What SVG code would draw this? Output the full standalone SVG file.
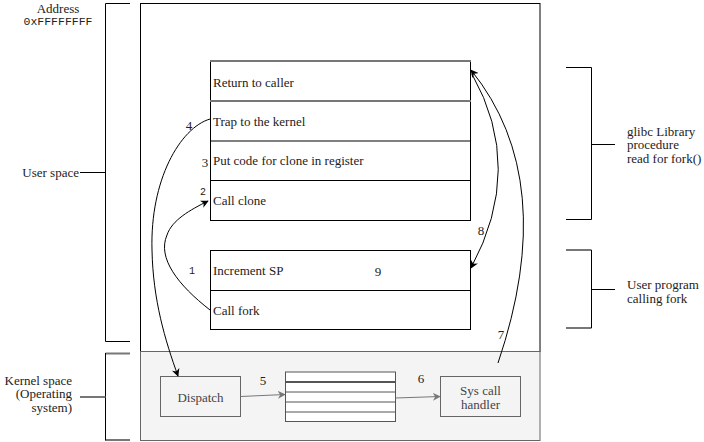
<svg xmlns="http://www.w3.org/2000/svg" width="704" height="442" viewBox="0 0 704 442">
<defs>
<marker id="ah" viewBox="0 0 10 10" refX="9" refY="5" markerWidth="8" markerHeight="8" markerUnits="userSpaceOnUse" orient="auto">
<path d="M0,0 L10,5 L0,10 L3,5 Z" fill="#000"/>
</marker>
<marker id="ahg" viewBox="0 0 10 10" refX="9" refY="5" markerWidth="8" markerHeight="8" markerUnits="userSpaceOnUse" orient="auto">
<path d="M0,0 L10,5 L0,10 L3,5 Z" fill="#777"/>
</marker>
</defs>
<style>
text{font-family:"Liberation Serif","Times New Roman",serif;font-size:13px;fill:#222}
text.mono{font-family:"Liberation Mono","DejaVu Sans Mono",monospace}
.blk{fill:none;stroke:#000;stroke-width:1}
.gryt{fill:none;stroke:#777;stroke-width:2}
.row{fill:#fff;stroke:#000;stroke-width:1}
.mid{text-anchor:middle}
.end{text-anchor:end}
.conn{fill:none;stroke:#000;stroke-width:1}
.k{fill:#444}
</style>
<rect width="704" height="442" fill="#fff"/>

<g id="labels">
<text x="58" y="13" class="mid">Address</text>
<text x="58" y="25" class="mid mono" style="font-size:11.5px">0xFFFFFFFF</text>
</g>

<g id="user-space">
<rect x="140.5" y="3.5" width="399.5" height="348" class="blk"/>
</g>

<g id="kernel-space">
<rect x="140.5" y="351.5" width="399.5" height="89" fill="#f4f4f4" stroke="#666" stroke-width="1"/>
</g>

<g id="brace-user">
<path d="M130 3.5 H105.5 V341.5 H130" class="blk"/>
<line x1="80" y1="172.5" x2="105.5" y2="172.5" class="blk"/>
<text x="79" y="176.5" class="end">User space</text>
</g>

<g id="brace-kernel">
<path d="M130 353.5 H105.5" class="gryt"/>
<path d="M130 440 H105.5" class="gryt"/>
<line x1="105.5" y1="353" x2="105.5" y2="440.5" class="blk"/>
<line x1="80" y1="397" x2="105.5" y2="397" class="gryt"/>
<text x="72" y="384.5" class="end">Kernel space</text>
<text x="72" y="398" class="end">(Operating</text>
<text x="72" y="411.5" class="end">system)</text>
</g>

<g id="brace-glibc">
<path d="M566 67.5 H591.5 V219.5 H566" class="blk"/>
<line x1="591.5" y1="144.5" x2="615" y2="144.5" class="blk"/>
<text x="627" y="135.5">glibc Library</text>
<text x="627" y="149">procedure</text>
<text x="627" y="162.5">read for fork()</text>
</g>

<g id="brace-userprog">
<path d="M566 250 H591.5" class="gryt"/>
<path d="M566 328 H591.5" class="gryt"/>
<line x1="591.5" y1="250" x2="591.5" y2="328" class="blk"/>
<line x1="591.5" y1="289.5" x2="615" y2="289.5" class="blk"/>
<text x="627" y="288.5">User program</text>
<text x="627" y="302.5">calling fork</text>
</g>

<g id="glibc-stack">
<rect x="210.5" y="61" width="260" height="159.5" class="row"/>
<line x1="210.5" y1="141" x2="470.5" y2="141" class="blk"/>
<line x1="210.5" y1="180.5" x2="470.5" y2="180.5" class="blk"/>
<line x1="210" y1="61" x2="471" y2="61" class="gryt"/>
<line x1="210" y1="101" x2="471" y2="101" class="gryt"/>
<text x="213" y="86.5">Return to caller</text>
<text x="213" y="125.5">Trap to the kernel</text>
<text x="213" y="165">Put code for clone in register</text>
<text x="213" y="204.5">Call clone</text>
</g>

<g id="user-stack">
<rect x="210.5" y="250.5" width="260" height="79" class="row"/>
<line x1="210.5" y1="290.5" x2="470.5" y2="290.5" class="blk"/>
<text x="213" y="274.5">Increment SP</text>
<text x="213" y="314.5">Call fork</text>
</g>

<g id="dispatch">
<rect x="160.5" y="376.5" width="80" height="40" fill="#f4f4f4" stroke="#666" stroke-width="1"/>
<text x="200.5" y="401.5" class="mid k">Dispatch</text>
</g>

<g id="table">
<rect x="285.5" y="372" width="110" height="49.5" fill="#fff" stroke="#555" stroke-width="1"/>
<line x1="285.5" y1="382" x2="395.5" y2="382" stroke="#555" stroke-width="2"/>
<line x1="285.5" y1="392" x2="395.5" y2="392" stroke="#555" stroke-width="1"/>
<line x1="285.5" y1="402" x2="395.5" y2="402" stroke="#555" stroke-width="1"/>
<line x1="285.5" y1="412" x2="395.5" y2="412" stroke="#555" stroke-width="1"/>
</g>

<g id="syscall-handler">
<rect x="440.5" y="376.5" width="80" height="40" fill="#f4f4f4" stroke="#666" stroke-width="1"/>
<text x="480.5" y="394.5" class="mid k">Sys call</text>
<text x="480.5" y="408.5" class="mid k">handler</text>
</g>

<g id="connectors">
<path d="M210 310 C178 285 157 258 167 235 C172 220 190 210 208 201" class="conn" marker-end="url(#ah)"/>
<path d="M210 119 C180 128 150 180 152 250 C153 300 165 340 178 376" class="conn" marker-end="url(#ah)"/>
<path d="M240.5 396.5 L285 394.5" fill="none" stroke="#777" stroke-width="1" marker-end="url(#ahg)"/>
<path d="M395.5 398 L440 396.5" fill="none" stroke="#777" stroke-width="1" marker-end="url(#ahg)"/>
<path d="M498 363 Q560 180 471 70" class="conn" marker-end="url(#ah)"/>
<path d="M472 74 Q525 168 471 268" class="conn" marker-end="url(#ah)"/>
</g>

<g id="step-labels">
<text x="192" y="274" class="mono mid" style="font-size:10px">1</text>
<text x="203" y="195" class="mono mid" style="font-size:10px">2</text>
<text x="205" y="166.5" class="mid">3</text>
<text x="189" y="129.5" class="mid">4</text>
<text x="263" y="384.5" class="mid">5</text>
<text x="421" y="382.5" class="mid">6</text>
<text x="501" y="338.5" class="mid">7</text>
<text x="481" y="234.5" class="mid">8</text>
<text x="378" y="275.5" class="mid">9</text>
</g>
</svg>
